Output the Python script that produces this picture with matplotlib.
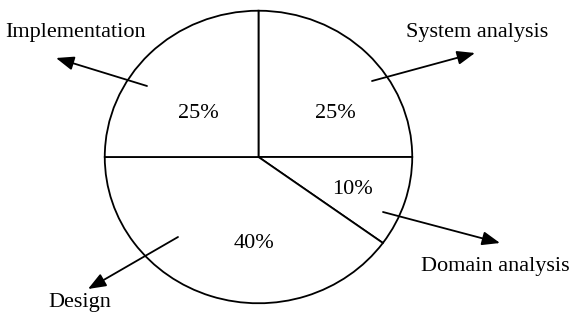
import matplotlib.pyplot as plt

# Data
phases = ["System analysis", "Domain analysis", "Design", "Implementation"]
shares = [25, 10, 40, 25]
pct_labels = ["25%", "10%", "40%", "25%"]

# label / arrow placement in image pixels (x, y from top-left)
pct_pos = [(335, 114), (352, 189), (254, 244), (198, 114)]
name_pos = [(477, 33), (495, 267), (80, 302), (76, 32)]
arrow_tail = [(372, 81), (383, 212), (178, 237), (147, 86)]
arrow_tip = [(475, 53), (500, 243), (88, 289), (56, 58)]

plt.rcParams['font.family'] = ['Liberation Serif', 'DejaVu Serif']

W, H = 571, 318
fig = plt.figure(figsize=(W / 100, H / 100), dpi=100)

# background axes in pixel coordinates for text and arrows
bg = fig.add_axes([0, 0, 1, 1])
bg.set_xlim(0, W)
bg.set_ylim(H, 0)
bg.axis('off')

# pie axes stretched over the ellipse bounding box
left, right, top, bottom = 104, 413, 10, 304
ax = fig.add_axes([left / W, (H - bottom) / H, (right - left) / W, (bottom - top) / H])
ax.pie(shares, startangle=90, counterclock=False, radius=1,
       wedgeprops=dict(facecolor='white', edgecolor='black', linewidth=1.3))
ax.set_aspect('auto')
ax.set_xlim(-1.005, 1.005)
ax.set_ylim(-1.005, 1.005)
ax.axis('off')

for txt, (x, y) in zip(pct_labels, pct_pos):
    bg.text(x, y, txt, ha='center', va='center', fontsize=16, zorder=5)

for name, (x, y) in zip(phases, name_pos):
    bg.text(x, y, name, ha='center', va='center', fontsize=16)

for (x0, y0), (x1, y1) in zip(arrow_tail, arrow_tip):
    bg.annotate("", xy=(x1, y1), xytext=(x0, y0),
                arrowprops=dict(arrowstyle="-|>,head_length=0.9,head_width=0.35",
                                color='black', lw=1.3, mutation_scale=12,
                                shrinkA=0, shrinkB=0))

# put arrows above the pie
bg.set_zorder(2)

fig.savefig("out.png", dpi=100)
